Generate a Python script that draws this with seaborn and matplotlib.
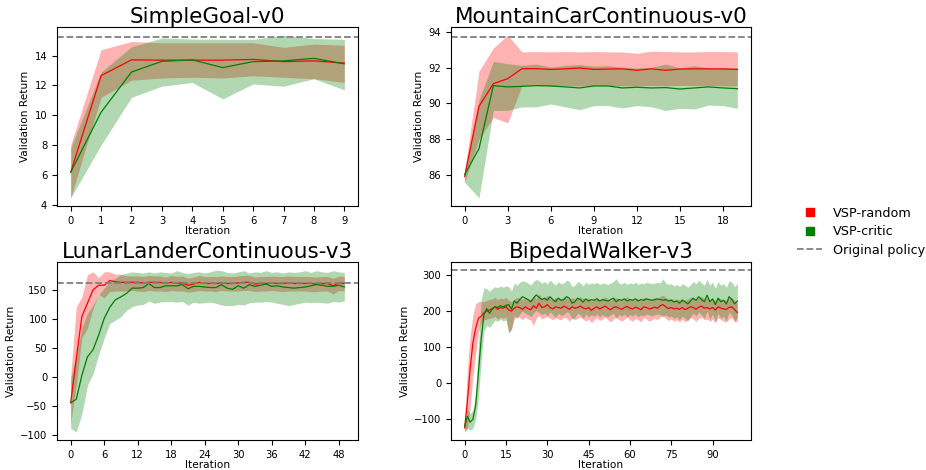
import numpy as np
import matplotlib
matplotlib.use("Agg")
import matplotlib.pyplot as plt
import seaborn as sns
from matplotlib.lines import Line2D

# ---- SimpleGoal-v0 ----
sg_iters = list(range(10))
sg_rand_mean = [6.17, 12.66, 13.72, 13.70, 13.70, 13.70, 13.75, 13.60, 13.65, 13.50]
sg_rand_lo = [4.45, 11.2, 12.35, 12.5, 12.55, 12.5, 12.65, 12.55, 12.45, 12.2]
sg_rand_hi = [8.0, 14.4, 14.95, 14.87, 14.87, 14.87, 14.87, 14.56, 14.78, 14.7]
sg_crit_mean = [6.17, 10.2, 12.9, 13.62, 13.72, 13.2, 13.6, 13.65, 13.82, 13.45]
sg_crit_lo = [4.45, 8.0, 11.2, 11.95, 12.2, 11.1, 12.1, 11.95, 12.45, 11.7]
sg_crit_hi = [7.8, 12.9, 14.6, 15.19, 15.12, 15.1, 15.1, 15.38, 15.15, 15.1]
sg_orig = 15.25

# ---- MountainCarContinuous-v0 ----
mc_iters = list(range(20))
mc_rand_mean = [85.9, 89.83, 91.1, 91.38, 91.94, 91.94, 91.9, 91.93, 91.98, 91.9,
                91.92, 91.93, 91.85, 91.93, 91.85, 91.92, 91.93, 91.93, 91.92, 91.9]
mc_rand_lo = [85.57, 88.0, 89.2, 88.9, 91.0, 91.0, 90.98, 91.0, 90.97, 91.0,
              91.0, 90.98, 90.97, 91.0, 90.98, 91.0, 91.0, 91.0, 90.98, 90.97]
mc_rand_hi = [86.2, 91.8, 93.1, 93.82, 92.88, 92.9, 92.88, 92.9, 92.88, 92.9,
              92.88, 92.88, 92.8, 92.92, 92.9, 92.88, 92.88, 92.9, 92.9, 92.88]
mc_crit_mean = [86.0, 87.46, 90.99, 90.92, 90.95, 90.99, 90.97, 90.92, 90.86, 90.97,
                90.97, 90.86, 90.9, 90.86, 90.88, 90.8, 90.86, 90.92, 90.86, 90.82]
mc_crit_lo = [85.57, 84.7, 89.6, 89.6, 89.8, 89.8, 89.96, 89.8, 89.64, 89.87,
              89.87, 89.74, 89.87, 89.8, 89.6, 89.72, 89.68, 89.9, 89.87, 89.72]
mc_crit_hi = [86.19, 90.2, 92.35, 92.22, 92.13, 92.2, 92.02, 92.13, 92.17, 92.08,
              92.11, 92.02, 91.98, 92.02, 92.2, 91.98, 92.11, 91.98, 92.02, 91.98]
mc_orig = 93.72

# ---- LunarLanderContinuous-v3 ----
ll_iters = list(range(50))
ll_rand_mean = [-44, 32, 104, 127, 150, 158, 158, 166, 164, 163,
                163, 163, 163, 162, 163, 163, 163, 161, 163, 161,
                162, 158, 160, 163, 161, 161, 161, 162, 161, 161,
                162, 163, 163, 160, 161, 161, 162, 161, 161, 162,
                161, 161, 161, 161, 160, 161, 161, 157, 162, 161]
ll_rand_lo = [-80, -14, 67, 84, 118, 142, 136, 147, 148, 148,
              148, 149, 148, 147, 149, 148, 148, 147, 149, 148,
              148, 146, 147, 149, 148, 148, 147, 149, 148, 148,
              148, 149, 149, 147, 148, 148, 149, 148, 147, 148,
              148, 148, 148, 147, 147, 148, 148, 143, 149, 148]
ll_rand_hi = [2, 121, 138, 176, 181, 171, 181, 181, 177, 177,
              174, 174, 174, 173, 175, 174, 174, 172, 175, 173,
              174, 170, 172, 175, 173, 173, 173, 174, 173, 173,
              174, 175, 175, 172, 173, 173, 174, 173, 173, 174,
              173, 173, 173, 173, 172, 173, 173, 170, 174, 173]
ll_crit_mean = [-44, -38, 3, 35, 47, 72, 101, 120, 133, 138,
                144, 153, 153, 154, 161, 154, 154, 157, 157, 157,
                159, 152, 156, 156, 155, 154, 154, 159, 153, 151,
                157, 153, 159, 156, 158, 160, 156, 157, 155, 154,
                153, 154, 155, 157, 159, 158, 156, 156, 158, 155]
ll_crit_lo = [-88, -94, -63, -14, 6, 38, 67, 92, 98, 104,
              115, 121, 124, 125, 131, 127, 129, 130, 130, 129,
              130, 124, 129, 127, 128, 129, 127, 124, 123, 123,
              125, 124, 128, 129, 129, 130, 129, 127, 125, 123,
              125, 127, 129, 128, 129, 128, 127, 130, 129, 131]
ll_crit_hi = [-2, 38, 84, 110, 124, 141, 153, 164, 170, 176,
              179, 181, 180, 179, 181, 179, 181, 180, 179, 183,
              180, 178, 180, 181, 179, 181, 184, 183, 180, 179,
              181, 183, 179, 181, 180, 183, 180, 181, 179, 181,
              180, 181, 183, 180, 183, 181, 180, 183, 181, 180]
ll_orig = 162.6

# ---- BipedalWalker-v3 ----
bw_iters = list(range(100))
bw_rand_mean = [-124, -50, 40, 112, 152, 180, 186, 195, 200, 203,
                207, 212, 205, 210, 208, 213, 203, 200, 208, 212,
                210, 205, 212, 207, 204, 215, 208, 222, 210, 212,
                218, 210, 206, 212, 210, 208, 214, 210, 205, 212,
                208, 210, 214, 209, 206, 210, 202, 208, 212, 206,
                210, 214, 208, 204, 210, 212, 208, 205, 210, 213,
                208, 206, 211, 208, 204, 212, 210, 206, 208, 211,
                208, 215, 218, 212, 207, 210, 206, 208, 205, 210,
                204, 208, 212, 210, 205, 211, 214, 208, 210, 206,
                210, 203, 212, 208, 206, 205, 210, 212, 204, 196]
bw_rand_lo = [-135, -125, -70, 20, 80, 140, 168, 175, 178, 180,
              182, 185, 178, 183, 180, 184, 140, 150, 178, 184,
              182, 176, 184, 178, 175, 160, 180, 188, 178, 182,
              185, 180, 176, 182, 178, 176, 183, 180, 172, 181,
              176, 180, 184, 178, 172, 178, 168, 176, 182, 174,
              178, 183, 176, 170, 178, 182, 176, 172, 178, 183,
              176, 172, 180, 176, 170, 182, 178, 172, 176, 180,
              176, 184, 186, 180, 174, 178, 172, 176, 170, 178,
              170, 176, 182, 178, 172, 180, 183, 176, 178, 172,
              178, 168, 182, 176, 172, 170, 178, 182, 170, 172]
bw_rand_hi = [-110, 40, 130, 190, 220, 226, 228, 226, 230, 232,
              234, 238, 232, 236, 234, 238, 230, 226, 234, 238,
              236, 232, 238, 234, 232, 242, 234, 248, 236, 238,
              244, 236, 232, 238, 236, 234, 240, 236, 232, 238,
              234, 236, 240, 235, 232, 236, 228, 234, 238, 232,
              236, 240, 234, 230, 236, 238, 234, 232, 236, 240,
              234, 232, 237, 234, 230, 238, 236, 232, 234, 237,
              234, 241, 244, 238, 233, 236, 232, 234, 231, 236,
              230, 234, 238, 236, 231, 237, 240, 234, 236, 232,
              236, 229, 238, 234, 232, 231, 236, 238, 230, 222]
bw_crit_mean = [-120, -92, -108, -100, -62, 30, 122, 190, 207, 194,
                205, 212, 210, 215, 212, 216, 218, 205, 228, 222,
                232, 240, 236, 232, 226, 236, 245, 238, 232, 236,
                230, 240, 232, 226, 236, 230, 232, 240, 236, 222,
                226, 236, 232, 225, 234, 228, 232, 230, 234, 228,
                232, 230, 228, 232, 236, 226, 232, 230, 234, 228,
                232, 230, 234, 228, 232, 230, 234, 232, 230, 232,
                234, 232, 230, 232, 228, 230, 225, 228, 222, 230,
                226, 220, 228, 236, 230, 240, 232, 226, 244, 226,
                234, 218, 236, 226, 230, 220, 240, 232, 220, 228]
bw_crit_lo = [-135, -125, -130, -125, -100, -40, 60, 145, 160, 155,
              165, 175, 172, 178, 172, 176, 140, 150, 188, 180,
              192, 200, 194, 190, 184, 194, 202, 196, 190, 194,
              186, 198, 190, 182, 194, 188, 190, 198, 194, 178,
              182, 194, 190, 180, 192, 184, 190, 186, 192, 184,
              190, 186, 184, 190, 194, 180, 190, 186, 192, 184,
              190, 186, 192, 184, 190, 186, 192, 190, 186, 190,
              192, 190, 186, 190, 184, 186, 180, 184, 176, 186,
              180, 172, 184, 194, 186, 198, 190, 180, 200, 178,
              192, 170, 194, 180, 186, 172, 198, 188, 172, 182]
bw_crit_hi = [-105, -70, -85, -75, -30, 100, 230, 265, 262, 255,
              262, 268, 265, 270, 266, 270, 268, 256, 278, 272,
              280, 284, 282, 278, 272, 282, 288, 284, 278, 282,
              276, 286, 278, 272, 282, 276, 278, 286, 282, 268,
              272, 282, 278, 270, 280, 274, 278, 276, 280, 274,
              278, 276, 274, 278, 282, 290, 278, 276, 280, 274,
              278, 276, 280, 274, 278, 276, 280, 278, 276, 278,
              280, 278, 290, 278, 274, 276, 270, 274, 268, 276,
              272, 266, 274, 282, 276, 286, 278, 272, 288, 272,
              280, 264, 282, 272, 276, 266, 284, 280, 268, 278]
bw_orig = 313.8

panels = [
    ("SimpleGoal-v0", sg_iters, sg_rand_mean, sg_rand_lo, sg_rand_hi,
     sg_crit_mean, sg_crit_lo, sg_crit_hi, sg_orig, list(range(10))),
    ("MountainCarContinuous-v0", mc_iters, mc_rand_mean, mc_rand_lo, mc_rand_hi,
     mc_crit_mean, mc_crit_lo, mc_crit_hi, mc_orig, list(range(0, 20, 3))),
    ("LunarLanderContinuous-v3", ll_iters, ll_rand_mean, ll_rand_lo, ll_rand_hi,
     ll_crit_mean, ll_crit_lo, ll_crit_hi, ll_orig, list(range(0, 50, 6))),
    ("BipedalWalker-v3", bw_iters, bw_rand_mean, bw_rand_lo, bw_rand_hi,
     bw_crit_mean, bw_crit_lo, bw_crit_hi, bw_orig, list(range(0, 100, 15))),
]

W, H = 926, 470
fig = plt.figure(figsize=(W / 100, H / 100), dpi=100)

# axes boxes in pixels: left, top, right, bottom
boxes = [(57, 27, 358, 206), (451, 27, 751, 206),
         (57, 262, 358, 440), (451, 262, 751, 440)]

for (l, t, r, b), panel in zip(boxes, panels):
    title, it, rm, rlo, rhi, cm, clo, chi, orig, xt = panel
    ax = fig.add_axes([l / W, 1 - b / H, (r - l) / W, (b - t) / H])
    ax.fill_between(it, rlo, rhi, color="red", alpha=0.3, linewidth=0)
    ax.fill_between(it, clo, chi, color="green", alpha=0.3, linewidth=0)
    sns.lineplot(x=it, y=rm, color="red", linewidth=0.9, ax=ax)
    sns.lineplot(x=it, y=cm, color="green", linewidth=0.9, ax=ax)
    ax.axhline(orig, color="grey", linestyle="--", linewidth=1.3)
    ax.set_xticks(xt)
    ax.set_title(title, fontsize=15.5, pad=2.7)
    ax.set_xlabel("Iteration", fontsize=7.6, labelpad=0)
    ax.set_ylabel("Validation Return", fontsize=7.6, labelpad=3)
    ax.tick_params(labelsize=7.2)

handles = [
    Line2D([], [], marker="s", linestyle="", color="red", markersize=6.3),
    Line2D([], [], marker="s", linestyle="", color="green", markersize=6.3),
    Line2D([], [], color="grey", linestyle="--", linewidth=1.3),
]
fig.legend(handles, ["VSP-random", "VSP-critic", "Original policy"],
           loc="center left", bbox_to_anchor=(0.848, 0.507),
           frameon=False, fontsize=9.2, labelspacing=0.42)

fig.savefig("out.png", dpi=100)
